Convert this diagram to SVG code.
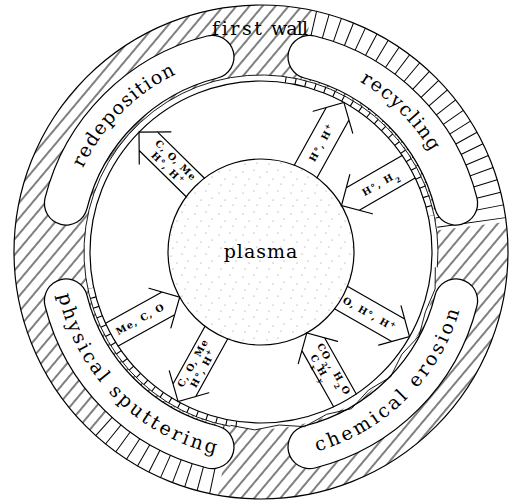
<svg xmlns="http://www.w3.org/2000/svg" xmlns:xlink="http://www.w3.org/1999/xlink" width="512" height="501" viewBox="0 0 512 501">
<style>
.ln{fill:none;stroke:#000;stroke-width:1.2}
.thin{fill:none;stroke:#000;stroke-width:0.9}
.arr{fill:none;stroke:#000;stroke-width:1.2;stroke-linecap:round}
.big{font-family:"DejaVu Serif","Liberation Serif",serif;font-size:19px;fill:#000;font-variant-ligatures:none}
.lab{font-family:"DejaVu Serif","Liberation Serif",serif;font-size:9.5px;font-weight:bold;fill:#000;text-anchor:middle;letter-spacing:1.1px}
.capO{fill:none;stroke:#000;stroke-width:44.5;stroke-linecap:round}
.capI{fill:none;stroke:#fff;stroke-width:42;stroke-linecap:round}
</style>
<defs>
<pattern id="hatch" patternUnits="userSpaceOnUse" width="10" height="10" patternTransform="rotate(40)">
<line x1="5" y1="-1" x2="5" y2="11" stroke="#000" stroke-width="1"/>
</pattern>
<pattern id="dots" patternUnits="userSpaceOnUse" width="24" height="21">
<circle cx="3" cy="4" r="0.6" fill="#888"/><circle cx="14" cy="2" r="0.6" fill="#888"/><circle cx="9" cy="11" r="0.6" fill="#888"/><circle cx="20" cy="9" r="0.6" fill="#888"/><circle cx="5" cy="17" r="0.6" fill="#888"/><circle cx="17" cy="16" r="0.6" fill="#888"/>
</pattern>
<line id="rl" x1="439" y1="252" x2="508" y2="252" stroke="#000" stroke-width="1"/>
<path id="tp-redep" d="M64,252 A197,197 0 0 1 261,55"/>
<path id="tp-recyc" d="M261,55 A197,197 0 0 1 458,252"/>
<path id="tp-phys" d="M54,252 A207,207 0 0 0 261,459"/>
<path id="tp-chem" d="M261,459 A207,207 0 0 0 468,252"/>
</defs>
<rect width="512" height="501" fill="#fff"/>

<g id="first-wall">
<path d="M261,5 A247,247 0 1 1 260.99,5 Z M261,75 A177,177 0 1 0 261.01,75 Z" fill="url(#hatch)" fill-rule="evenodd"/>
<path d="M312.4,10.4 A247,247 0 0 1 506.1,221.9 L437.7,230.3 A178,178 0 0 0 298.0,77.9 Z" fill="#fff"/>
<path d="M218.1,495.2 A247,247 0 0 1 92.5,432.7 L139.6,382.2 A178,178 0 0 0 230.1,427.3 Z" fill="#fff"/>
<g id="radial-hatch">
<use xlink:href="#rl" transform="rotate(-77 261 252)"/><use xlink:href="#rl" transform="rotate(-74 261 252)"/><use xlink:href="#rl" transform="rotate(-71 261 252)"/><use xlink:href="#rl" transform="rotate(-68 261 252)"/><use xlink:href="#rl" transform="rotate(-65 261 252)"/><use xlink:href="#rl" transform="rotate(-62 261 252)"/><use xlink:href="#rl" transform="rotate(-59 261 252)"/><use xlink:href="#rl" transform="rotate(-56 261 252)"/><use xlink:href="#rl" transform="rotate(-53 261 252)"/><use xlink:href="#rl" transform="rotate(-50 261 252)"/><use xlink:href="#rl" transform="rotate(-47 261 252)"/><use xlink:href="#rl" transform="rotate(-44 261 252)"/><use xlink:href="#rl" transform="rotate(-41 261 252)"/><use xlink:href="#rl" transform="rotate(-38 261 252)"/><use xlink:href="#rl" transform="rotate(-35 261 252)"/><use xlink:href="#rl" transform="rotate(-32 261 252)"/><use xlink:href="#rl" transform="rotate(-29 261 252)"/><use xlink:href="#rl" transform="rotate(-26 261 252)"/><use xlink:href="#rl" transform="rotate(-23 261 252)"/><use xlink:href="#rl" transform="rotate(-20 261 252)"/><use xlink:href="#rl" transform="rotate(-17 261 252)"/><use xlink:href="#rl" transform="rotate(-14 261 252)"/><use xlink:href="#rl" transform="rotate(-11 261 252)"/><use xlink:href="#rl" transform="rotate(-8 261 252)"/>
<use xlink:href="#rl" transform="rotate(102 261 252)"/><use xlink:href="#rl" transform="rotate(105 261 252)"/><use xlink:href="#rl" transform="rotate(108 261 252)"/><use xlink:href="#rl" transform="rotate(111 261 252)"/><use xlink:href="#rl" transform="rotate(114 261 252)"/><use xlink:href="#rl" transform="rotate(117 261 252)"/><use xlink:href="#rl" transform="rotate(120 261 252)"/><use xlink:href="#rl" transform="rotate(123 261 252)"/><use xlink:href="#rl" transform="rotate(126 261 252)"/><use xlink:href="#rl" transform="rotate(129 261 252)"/><use xlink:href="#rl" transform="rotate(132 261 252)"/>
</g>
<circle cx="261" cy="252" r="247" class="ln"/>
<text class="big" x="212" y="35" font-size="18" textLength="50" lengthAdjust="spacing">first</text>
<text class="big" x="271" y="35" font-size="18" textLength="37" lengthAdjust="spacing">wall</text>
</g>

<g id="redeposition">
<path class="capO" d="M66.0,203.4 A201,201 0 0 1 212.4,57.0"/>
<path class="capI" d="M66.0,203.4 A201,201 0 0 1 212.4,57.0"/>
<text class="big" letter-spacing="1.3"><textPath xlink:href="#tp-redep" startOffset="50%" text-anchor="middle">redeposition</textPath></text>
</g>
<g id="recycling">
<path class="capO" d="M309.6,57.0 A201,201 0 0 1 456.0,203.4"/>
<path class="capI" d="M309.6,57.0 A201,201 0 0 1 456.0,203.4"/>
<text class="big" letter-spacing="1.5"><textPath xlink:href="#tp-recyc" startOffset="50%" text-anchor="middle">recycling</textPath></text>
</g>
<g id="physical-sputtering">
<path class="capO" d="M66.0,300.6 A201,201 0 0 0 212.4,447.0"/>
<path class="capI" d="M66.0,300.6 A201,201 0 0 0 212.4,447.0"/>
<text class="big" letter-spacing="2.8"><textPath xlink:href="#tp-phys" startOffset="50%" text-anchor="middle">physical sputtering</textPath></text>
</g>
<g id="chemical-erosion">
<path class="capO" d="M309.6,447.0 A201,201 0 0 0 456.0,300.6"/>
<path class="capI" d="M309.6,447.0 A201,201 0 0 0 456.0,300.6"/>
<text class="big" letter-spacing="3"><textPath xlink:href="#tp-chem" startOffset="50%" text-anchor="middle">chemical erosion</textPath></text>
</g>

<g id="wall-surface">
<circle cx="261" cy="252" r="171" class="ln" fill="#fff"/>
<path class="thin" d="M230.3,426.3 A177,177 0 1 1 437.3,267.4"/>
<path d="M285.2,79.7 A174,174 0 0 1 431.2,215.8" fill="none" stroke="#000" stroke-width="6" stroke-dasharray="1.1 9"/>
<path d="M236.8,424.3 A174,174 0 0 1 90.8,288.2" fill="none" stroke="#000" stroke-width="6" stroke-dasharray="1.1 9"/>
<polyline class="thin" points="230.4,425.3 254.8,429.9 279.2,425.0 304.5,426.7 326.6,414.3 351.5,408.7 368.7,389.9 390.5,377.0 401.8,354.3 419.0,336.0 425.4,311.9 435.1,289.0 435.3,267.3"/>
</g>

<g id="plasma">
<circle cx="261" cy="252" r="93" fill="url(#dots)" stroke="#000" stroke-width="1.2"/>
<text class="big" x="261" y="258" text-anchor="middle" letter-spacing="1">plasma</text>
</g>

<g id="connectors">
<g id="arrow-redeposition" transform="translate(139.0,132.1) rotate(224.5)">
<path class="arr" d="M-22.6,-22.6 L0,0 L-22.6,22.6 M-13,-13 H-79 M-13,13 H-79"/>
<g transform="translate(-46,0) rotate(180)"><text class="lab" y="-2.5">C, O, Me</text><text class="lab" y="9">H°, H<tspan baseline-shift="super" font-size="7">+</tspan></text></g>
</g>
<g id="arrow-recycling-out" transform="translate(343.9,102.4) rotate(-61)">
<path class="arr" d="M-22.6,-22.6 L0,0 L-22.6,22.6 M-13,-13 H-79 M-13,13 H-79"/>
<g transform="translate(-46,0)"><text class="lab" y="3.5">H°, H<tspan baseline-shift="super" font-size="7">+</tspan></text></g>
</g>
<g id="arrow-recycling-in" transform="translate(341.5,205.5) rotate(150)">
<path class="arr" d="M-22.6,-22.6 L0,0 L-22.6,22.6 M-13,-13 H-77.5 M-13,13 H-77.5"/>
<g transform="translate(-45,0) rotate(180)"><text class="lab" y="3.5">H°, H<tspan baseline-shift="sub" font-size="7">2</tspan></text></g>
</g>
<g id="arrow-chemical-out" transform="translate(409.5,336.7) rotate(29.7)">
<path class="arr" d="M-22.6,-22.6 L0,0 L-22.6,22.6 M-13,-13 H-79 M-13,13 H-79"/>
<g transform="translate(-46,0)"><text class="lab" y="3.5">O, H°, H<tspan baseline-shift="super" font-size="7">+</tspan></text></g>
</g>
<g id="arrow-chemical-in" transform="translate(306.8,332.9) rotate(240.5)">
<path class="arr" d="M-22.6,-22.6 L0,0 L-22.6,22.6 M-13,-13 H-77.5 M-13,13 H-77.5"/>
<g transform="translate(-45,0) rotate(180)"><text class="lab" y="-2.5">CO<tspan baseline-shift="sub" font-size="7">2</tspan>, H<tspan baseline-shift="sub" font-size="7">2</tspan>O</text><text class="lab" x="-8" y="9">C<tspan baseline-shift="sub" font-size="7">x</tspan>H<tspan baseline-shift="sub" font-size="7">y</tspan></text></g>
</g>
<g id="arrow-sputtering-out" transform="translate(178.1,401.6) rotate(119)">
<path class="arr" d="M-22.6,-22.6 L0,0 L-22.6,22.6 M-13,-13 H-79 M-13,13 H-79"/>
<g transform="translate(-41,0) rotate(180)"><text class="lab" y="-2.5">C, O, Me</text><text class="lab" y="9">H°, H<tspan baseline-shift="super" font-size="7">+</tspan></text></g>
</g>
<g id="arrow-sputtering-in" transform="translate(179.7,297.1) rotate(-29)">
<path class="arr" d="M-22.6,-22.6 L0,0 L-22.6,22.6 M-13,-13 H-77.5 M-13,13 H-77.5"/>
<g transform="translate(-45,0)"><text class="lab" y="3.5">Me, C, O</text></g>
</g>
</g>
</svg>
